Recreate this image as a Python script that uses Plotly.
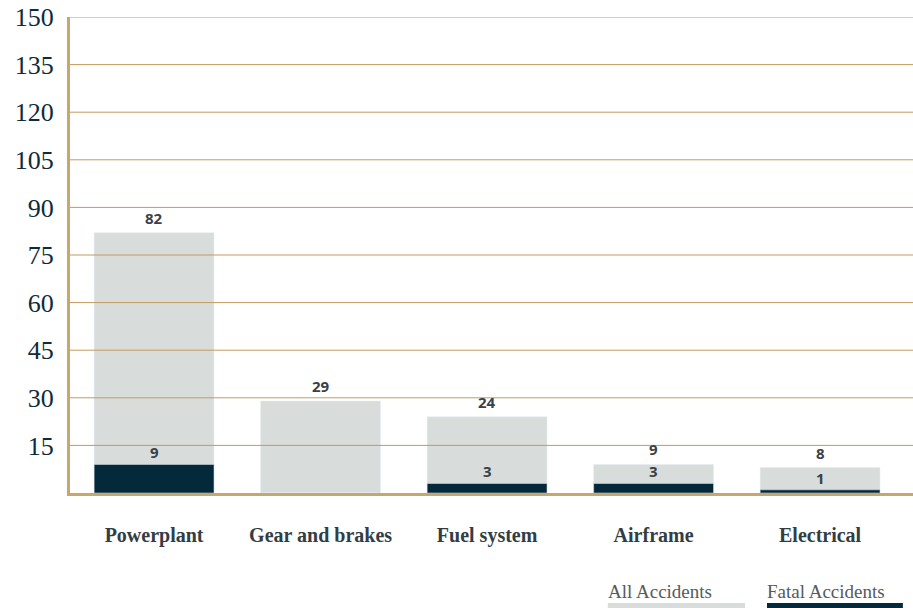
import plotly.graph_objects as go

categories = ["Powerplant", "Gear and brakes", "Fuel system", "Airframe", "Electrical"]
all_accidents = [82, 29, 24, 9, 8]
fatal_accidents = [9, 0, 3, 3, 1]
y_ticks = [15, 30, 45, 60, 75, 90, 105, 120, 135, 150]
legend_names = ["All Accidents", "Fatal Accidents"]

GREY = "#d8dcdb"
NAVY = "#04293a"
GOLD = "#c49a5e"
AXIS_GOLD = "#c8a66c"
LABEL_FONT = dict(family="Open Sans", size=15, color="#3b4148")

fig = go.Figure()
fig.add_trace(go.Bar(x=categories, y=all_accidents, marker_color=GREY, width=0.72,
                     name=legend_names[0], hoverinfo="skip"))
fig.add_trace(go.Bar(x=categories, y=fatal_accidents, marker_color=NAVY, width=0.72,
                     name=legend_names[1], hoverinfo="skip"))

# value labels
for c, v in zip(categories, all_accidents):
    fig.add_annotation(x=c, y=v, text=f"<b>{v}</b>", showarrow=False, yshift=15,
                       yanchor="middle", font=LABEL_FONT)
for c, v in zip(categories, fatal_accidents):
    if v > 0:
        fig.add_annotation(x=c, y=v, text=f"<b>{v}</b>", showarrow=False, yshift=12,
                           yanchor="middle", font=LABEL_FONT)

# gridlines above bars
for t in y_ticks:
    fig.add_shape(type="line", xref="paper", x0=0, x1=1, yref="y", y0=t, y1=t,
                  line=dict(color=GOLD, width=1), layer="above")

# custom legend
legend_x = [0.638, 0.8268]
legend_x1 = [0.8007, 0.988]
legend_colors = [GREY, NAVY]
for name, lx, lx1, col in zip(legend_names, legend_x, legend_x1, legend_colors):
    fig.add_annotation(xref="paper", yref="paper", x=lx, y=-0.206, text=name,
                       showarrow=False, xanchor="left", yanchor="middle", xshift=-2,
                       font=dict(family="Liberation Serif", size=19, color="#555a5e"))
    fig.add_shape(type="rect", xref="paper", yref="paper", x0=lx, x1=lx1,
                  y0=-0.2416, y1=-0.231, fillcolor=col, line=dict(width=0))

fig.update_layout(
    barmode="overlay",
    width=913, height=608,
    margin=dict(l=70, r=0, t=17, b=115),
    plot_bgcolor="white", paper_bgcolor="white",
    showlegend=False,
)
fig.update_xaxes(
    range=[-0.505, 4.558],
    showline=True, linecolor=AXIS_GOLD, linewidth=3,
    showgrid=False, ticks="",
    ticklabelstandoff=22,
    tickfont=dict(family="Liberation Serif", size=20, color="#333d44", weight="bold"),
)
fig.update_yaxes(
    range=[0, 150],
    tickvals=y_ticks,
    showline=True, linecolor=AXIS_GOLD, linewidth=3,
    showgrid=False, zeroline=False, ticks="",
    ticklabelstandoff=8,
    tickfont=dict(family="Liberation Serif", size=26, color="#0d2b3a"),
)

fig.write_html("out.html",
               config={"displayModeBar": False},
               post_script="document.body.style.margin='0';document.body.style.overflow='hidden';")
